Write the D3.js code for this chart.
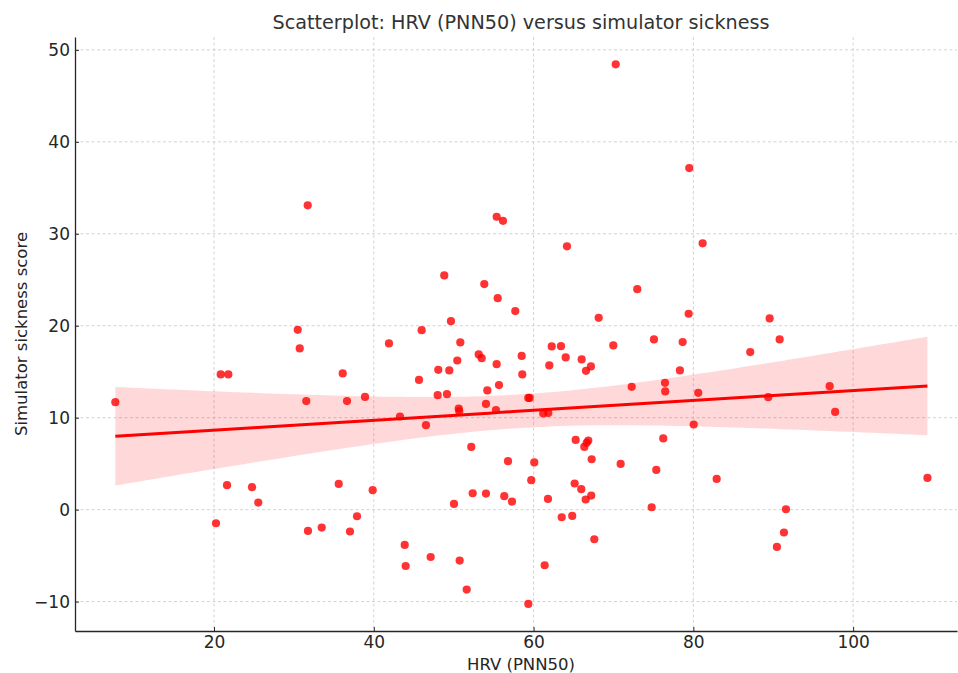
<!DOCTYPE html>
<html>
<head>
<meta charset="utf-8">
<script src="https://cdn.jsdelivr.net/npm/d3@7"></script>
<style>
  body { margin: 0; background: #fff; }
  text { font-family: "DejaVu Sans", sans-serif; }
</style>
</head>
<body>
<script>
var width = 958, height = 673;
var margin = {top: 37, right: 1, bottom: 42, left: 75};

// values
var hrv = [7.65, 20.25, 20.84, 21.79, 21.63, 24.76, 25.54, 30.48, 30.73, 31.73,
           31.55, 31.76, 33.48, 35.61, 36.11, 36.65, 37.02, 37.90, 38.90, 39.86,
           41.90, 43.28, 43.87, 43.99, 45.66, 45.99, 46.53, 47.12, 48.00, 48.07,
           48.82, 49.16, 49.45, 49.66, 50.04, 50.45, 50.83, 50.63, 50.70, 50.75,
           51.63, 52.20, 52.38, 53.13, 53.50, 53.83, 54.04, 54.21, 54.04, 55.38,
           55.38, 55.29, 55.51, 55.67, 56.17, 56.33, 56.80, 57.30, 57.71, 58.51,
           58.59, 59.34, 59.34, 59.51, 59.71, 60.09, 61.21, 61.39, 61.84, 61.80,
           61.97, 62.27, 63.43, 63.52, 64.02, 64.18, 64.84, 65.27, 65.14, 65.97,
           66.02, 66.35, 66.52, 66.56, 66.65, 66.85, 67.18, 67.27, 67.22, 67.60,
           68.15, 69.98, 70.28, 70.90, 72.28, 72.98, 74.78, 75.07, 75.36, 76.23,
           76.45, 76.48, 78.32, 78.66, 79.41, 79.49, 80.04, 80.61, 81.16, 82.92,
           87.12, 89.37, 89.55, 90.46, 90.80, 91.34, 91.59, 97.06, 97.75, 109.30];
var sickness = [11.69, -1.48, 14.70, 14.70, 2.66, 2.44, 0.77, 19.55, 17.53, 33.09,
                11.80, -2.32, -1.95, 2.80, 14.81, 11.80, -2.38, -0.72, 12.26, 2.11,
                18.07, 10.13, -3.84, -6.13, 14.11, 19.52, 9.18, -5.15, 12.45, 15.20,
                25.47, 12.56, 15.14, 20.50, 0.62, 16.22, 18.18, 11.00, 10.71, -5.54,
                -8.69, 6.82, 1.78, 16.88, 16.47, 24.53, 11.50, 12.96, 1.75, 15.82,
                31.85, 10.82, 23.00, 13.54, 31.41, 1.46, 5.27, 0.88, 21.59, 16.72,
                14.70, -10.26, 12.15, 12.15, 3.20, 5.13, 10.46, -6.05, 10.52, 1.16,
                15.68, 17.75, 17.78, -0.83, 16.55, 28.63, -0.69, 7.58, 2.84, 2.22,
                16.33, 6.82, 1.10, 15.09, 7.26, 7.52, 15.57, 5.48, 1.53, -3.22,
                20.86, 17.86, 48.43, 4.97, 13.35, 23.98, 0.26, 18.51, 4.32, 7.74,
                13.79, 12.85, 15.14, 18.22, 21.30, 37.15, 9.26, 12.70, 28.96, 3.34,
                17.13, 12.23, 20.79, -4.06, 18.51, -2.49, 0.04, 13.43, 10.63, 3.45];
var xTicks = [20, 40, 60, 80, 100];
var yTicks = [-10, 0, 10, 20, 30, 40, 50];

var points = hrv.map(function(d, i){ return {x: d, y: sickness[i]}; });

var svg = d3.select("body").append("svg")
            .attr("width", width).attr("height", height);

var x = d3.scaleLinear().domain([2.6, 113.0]).range([margin.left, width - margin.right]);
var y = d3.scaleLinear().domain([-13.2, 51.4]).range([height - margin.bottom, margin.top]);

// grid
svg.append("g").selectAll("line").data(xTicks).enter().append("line")
   .attr("x1", function(d){ return x(d); }).attr("x2", function(d){ return x(d); })
   .attr("y1", margin.top).attr("y2", height - margin.bottom)
   .attr("stroke", "#c8c8c8").attr("stroke-width", 0.8).attr("stroke-dasharray", "3,2.5");
svg.append("g").selectAll("line").data(yTicks).enter().append("line")
   .attr("y1", function(d){ return y(d); }).attr("y2", function(d){ return y(d); })
   .attr("x1", margin.left).attr("x2", width - margin.right)
   .attr("stroke", "#c8c8c8").attr("stroke-width", 0.8).attr("stroke-dasharray", "3,2.5");

// linear fit with 95% confidence band
var n = points.length;
var mx = d3.mean(hrv), my = d3.mean(sickness);
var sxx = d3.sum(hrv, function(d){ return (d - mx) * (d - mx); });
var sxy = d3.sum(points, function(d){ return (d.x - mx) * (d.y - my); });
var slope = sxy / sxx, icpt = my - slope * mx;
var sse = d3.sum(points, function(d){ var r = d.y - (icpt + slope * d.x); return r * r; });
var s = Math.sqrt(sse / (n - 2));
var tval = 1.98;
var x0 = d3.min(hrv), x1 = d3.max(hrv);
var grid = d3.range(0, 101).map(function(i){ return x0 + (x1 - x0) * i / 100; });
var band = grid.map(function(v){
    var fit = icpt + slope * v;
    var se = s * Math.sqrt(1 / n + (v - mx) * (v - mx) / sxx);
    return {x: v, lo: fit - tval * se, hi: fit + tval * se, fit: fit};
});

svg.append("path").datum(band)
   .attr("d", d3.area().x(function(d){ return x(d.x); })
                      .y0(function(d){ return y(d.lo); })
                      .y1(function(d){ return y(d.hi); }))
   .attr("fill", "#ff0000").attr("fill-opacity", 0.15);

svg.append("g").selectAll("circle").data(points).enter().append("circle")
   .attr("cx", function(d){ return x(d.x); })
   .attr("cy", function(d){ return y(d.y); })
   .attr("r", 4.1)
   .attr("fill", "#ff0000").attr("fill-opacity", 0.8);

svg.append("path").datum(band)
   .attr("d", d3.line().x(function(d){ return x(d.x); }).y(function(d){ return y(d.fit); }))
   .attr("fill", "none").attr("stroke", "#ff0000").attr("stroke-width", 3);

// axes (ticks point inward)
var xAxis = svg.append("g").attr("transform", "translate(0," + (height - margin.bottom) + ")")
   .call(d3.axisBottom(x).tickValues(xTicks).tickSizeInner(-4).tickSizeOuter(0).tickPadding(5));
var yAxis = svg.append("g").attr("transform", "translate(" + margin.left + ",0)")
   .call(d3.axisLeft(y).tickValues(yTicks).tickSizeInner(-4).tickSizeOuter(0).tickPadding(5)
         .tickFormat(function(d){ return d < 0 ? "\u2212" + Math.abs(d) : d; }));
[xAxis, yAxis].forEach(function(a){
    a.select(".domain").attr("stroke", "#262626").attr("stroke-width", 1.3);
    a.selectAll(".tick line").attr("stroke", "#262626").attr("stroke-width", 1);
    a.selectAll(".tick text").attr("fill", "#262626").style("font-size", "17px");
});

svg.append("text").attr("x", (margin.left + width - margin.right) / 2 + 5).attr("y", 29)
   .attr("text-anchor", "middle").attr("fill", "#333").style("font-size", "19.2px")
   .text("Scatterplot: HRV (PNN50) versus simulator sickness");
svg.append("text").attr("x", (margin.left + width - margin.right) / 2 + 5).attr("y", 670)
   .attr("text-anchor", "middle").attr("fill", "#262626").style("font-size", "16.5px")
   .text("HRV (PNN50)");
svg.append("text")
   .attr("transform", "translate(27," + ((margin.top + height - margin.bottom) / 2) + ") rotate(-90)")
   .attr("text-anchor", "middle").attr("fill", "#262626").style("font-size", "16.5px")
   .text("Simulator sickness score");
</script>
</body>
</html>
